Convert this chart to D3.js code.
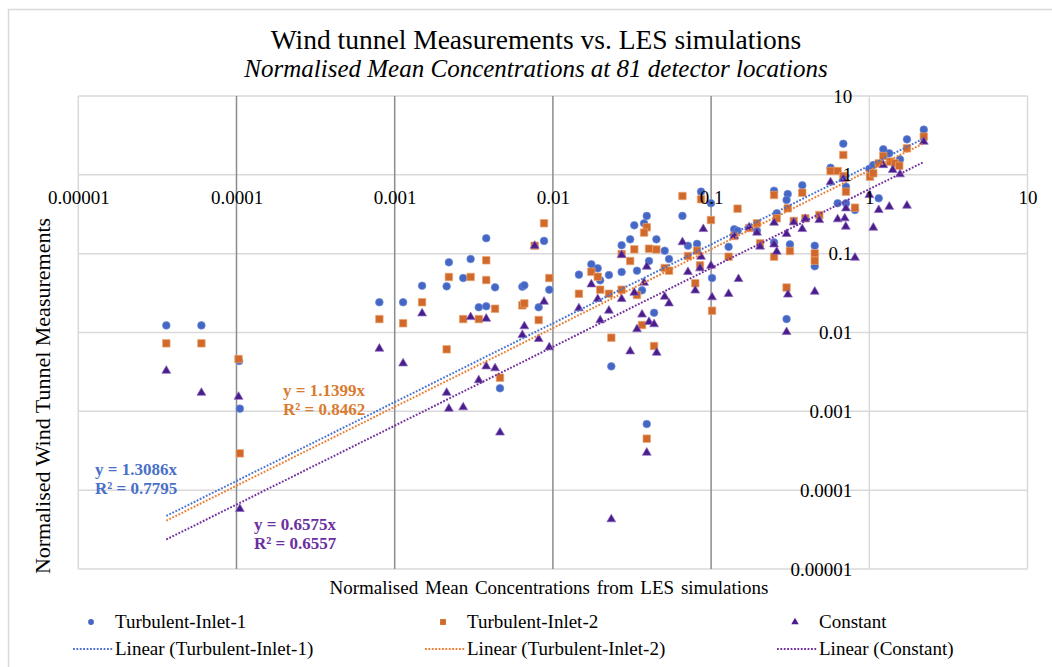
<!DOCTYPE html>
<html>
<head>
<meta charset="utf-8">
<script src="https://cdn.jsdelivr.net/npm/d3@7"></script>
<style>
	body {margin: 0; background: #fff;}
	svg {display: block; font-family: "Liberation Serif", "Times New Roman", serif;}
</style>
</head>
<body>
<div id="plot"></div>
<script>

// Decade ticks shared by both log axes.
var tickValues = [1e-5, 1e-4, 1e-3, 1e-2, 1e-1, 1, 10];
var tickLabels = ["0.00001", "0.0001", "0.001", "0.01", "0.1", "1", "10"];

// Series names and trendline slopes (linear fit through the origin).
var seriesNames = ["Turbulent-Inlet-1", "Turbulent-Inlet-2", "Constant"];
var slopes = [1.3086, 1.1399, 0.6575];
var rSquared = [0.7795, 0.8462, 0.6557];

// [LES value, wind tunnel value] pairs.
var turbulentInlet1 = [
	[3.6e-5, 0.0123], [6.0e-5, 0.0123], [1.04e-4, 0.00435], [1.05e-4, 0.00108],
	[8.0e-4, 0.0242], [1.13e-3, 0.0242], [1.49e-3, 0.0392], [2.13e-3, 0.0385],
	[2.2e-3, 0.0777], [2.71e-3, 0.0491], [3.02e-3, 0.0855], [3.40e-3, 0.0209],
	[3.79e-3, 0.0215], [3.79e-3, 0.157], [4.31e-3, 0.0374], [4.63e-3, 0.00196],
	[6.41e-3, 0.0381], [6.6e-3, 0.0397], [8.13e-3, 0.0209], [8.79e-3, 0.145],
	[9.49e-3, 0.0349], [0.0146, 0.0541], [0.0175, 0.0733], [0.0192, 0.0652],
	[0.0199, 0.0459], [0.0226, 0.0536], [0.0234, 0.00372], [0.0272, 0.128],
	[0.0272, 0.0585], [0.0308, 0.152], [0.0327, 0.229], [0.0340, 0.0608],
	[0.0392, 0.301], [0.0377, 0.243], [0.0405, 0.0807], [0.0451, 0.152],
	[0.0509, 0.109], [0.0542, 0.0855], [0.0366, 0.0343], [0.0436, 0.0178],
	[0.0392, 6.9e-4], [0.0659, 0.301], [0.0714, 0.126], [0.0815, 0.133],
	[0.0864, 0.611], [0.0998, 0.436], [0.1014, 0.0491], [0.129, 0.122],
	[0.140, 0.204], [0.147, 0.195], [0.195, 0.195], [0.250, 0.629],
	[0.305, 0.571], [0.300, 0.48], [0.250, 0.139], [0.300, 0.0148],
	[0.260, 0.325], [0.315, 0.131], [0.452, 0.126], [0.452, 0.0692],
	[0.377, 0.736], [0.569, 1.23], [0.685, 2.48], [0.712, 0.707],
	[0.712, 0.436], [0.631, 0.436], [0.812, 0.358], [1.00, 1.186],
	[1.06, 1.33], [1.147, 0.504], [1.226, 2.11], [1.338, 1.875],
	[1.563, 1.57], [1.73, 2.82], [2.21, 3.74]
];

var turbulentInlet2 = [
	[3.6e-5, 0.00729], [6.0e-5, 0.00729], [1.03e-4, 0.00461], [1.05e-4, 2.93e-4],
	[8.0e-4, 0.0148], [1.13e-3, 0.0131], [1.49e-3, 0.0242], [2.13e-3, 0.00612],
	[2.2e-3, 0.0506], [2.71e-3, 0.0148], [3.02e-3, 0.0506], [3.40e-3, 0.0148],
	[3.79e-3, 0.0824], [3.79e-3, 0.0463], [4.31e-3, 0.0200], [4.63e-3, 0.00267],
	[6.41e-3, 0.0221], [6.6e-3, 0.0234], [8.13e-3, 0.0144], [7.67e-3, 0.126],
	[8.79e-3, 0.243], [9.49e-3, 0.0491], [0.0146, 0.0310], [0.0175, 0.0590],
	[0.0192, 0.0510], [0.0199, 0.0349], [0.0226, 0.0310], [0.0234, 0.00859],
	[0.0272, 0.099], [0.0272, 0.0349], [0.0308, 0.0807], [0.0327, 0.1135],
	[0.0340, 0.0299], [0.0392, 0.216], [0.0377, 0.185], [0.0405, 0.1156],
	[0.0451, 0.113], [0.0509, 0.0658], [0.0542, 0.0608], [0.0366, 0.01245],
	[0.0436, 0.00674], [0.0392, 4.5e-4], [0.0659, 0.539], [0.0714, 0.0934],
	[0.0815, 0.109], [0.0864, 0.49], [0.0851, 0.0711], [0.0794, 0.0421],
	[0.0998, 0.267], [0.1014, 0.0189], [0.129, 0.0915], [0.147, 0.372],
	[0.140, 0.1675], [0.174, 0.2116], [0.195, 0.243], [0.204, 0.1353],
	[0.250, 0.555], [0.260, 0.281], [0.250, 0.0915], [0.300, 0.0372],
	[0.305, 0.376], [0.377, 0.593], [0.333, 0.260], [0.394, 0.281],
	[0.483, 0.309], [0.315, 0.108], [0.452, 0.101], [0.452, 0.0815],
	[0.569, 1.118], [0.631, 1.118], [0.685, 1.785], [0.685, 0.967],
	[0.712, 0.611], [0.812, 0.383], [1.01, 0.947], [1.06, 1.046],
	[1.147, 1.40], [1.226, 1.733], [1.352, 1.47], [1.453, 1.40],
	[1.547, 1.306], [1.73, 2.17], [2.21, 3.05]
];

var constant = [
	[3.6e-5, 0.00327], [6.0e-5, 0.00172], [1.03e-4, 0.00153], [1.05e-4, 5.77e-5],
	[8.0e-4, 0.00623], [1.13e-3, 0.00406], [1.49e-3, 0.0175], [2.13e-3, 0.00172],
	[2.2e-3, 0.00108], [2.71e-3, 0.001125], [3.02e-3, 0.0157], [3.40e-3, 0.00248],
	[3.79e-3, 0.01496], [3.79e-3, 0.00372], [4.31e-3, 0.00352], [4.63e-3, 5.39e-4],
	[6.41e-3, 0.00929], [6.6e-3, 0.0120], [8.13e-3, 0.00827], [7.67e-3, 0.126],
	[8.79e-3, 0.0246], [9.49e-3, 0.00649], [0.0146, 0.0203], [0.0175, 0.0408],
	[0.0192, 0.0266], [0.0199, 0.0143], [0.0226, 0.0189], [0.0308, 0.00577],
	[0.0272, 0.0962], [0.0272, 0.0266], [0.0327, 0.032], [0.0340, 0.011],
	[0.0392, 0.0684], [0.0377, 0.0428], [0.0366, 0.0169], [0.0405, 0.0136],
	[0.0436, 0.01274], [0.0453, 0.00554], [0.0509, 0.0284], [0.0542, 0.0234],
	[0.0659, 0.1397], [0.0714, 0.0585], [0.0794, 0.0341], [0.0851, 0.0652],
	[0.0864, 0.0915], [0.0893, 0.2055], [0.0998, 0.0704], [0.1014, 0.028],
	[0.129, 0.0308], [0.140, 0.1675], [0.149, 0.0477], [0.174, 0.216],
	[0.195, 0.185], [0.204, 0.123], [0.250, 0.247], [0.260, 0.106],
	[0.250, 0.131], [0.300, 0.178], [0.306, 0.0303], [0.300, 0.01014],
	[0.0392, 2.99e-4], [0.0234, 4.27e-5], [2.21, 2.63], [1.226, 1.33],
	[1.406, 1.152], [1.563, 1.016], [0.569, 0.804], [0.685, 0.885],
	[0.712, 0.376], [0.631, 0.273], [0.70, 0.281], [0.71, 0.22],
	[1.00, 0.555], [1.147, 0.358], [1.338, 0.394], [1.73, 0.406],
	[1.06, 0.2135], [0.812, 0.0889], [0.483, 0.267], [0.394, 0.2754],
	[0.377, 0.2055], [0.333, 0.25], [0.452, 0.0329]
];

var allSeries = [turbulentInlet1, turbulentInlet2, constant];

// Colours: marker fill, marker edge, trendline, equation text.
var markerFill = ["#4467c6", "#d0692b", "#4b1c8c"];
var markerEdge = ["#6f8ad6", "#eba46f", "#8a68bb"];
var lineColor = ["#4a72d0", "#ec7d31", "#7030a0"];
var labelColor = ["#4a6fc8", "#d97b30", "#6a2fa0"];

var width = 1052, height = 667;

var svg = d3.select("#plot")
	.append("svg")
	.attr("width", width)
	.attr("height", height);

// Outer chart frame.
svg.append("rect")
	.attr("x", 8.5).attr("y", 9.5)
	.attr("width", 1200).attr("height", 800)
	.attr("fill", "none")
	.attr("stroke", "#d9d9d9")
	.attr("stroke-width", 1.5);

// Log scales for both axes.
var x = d3.scaleLog().domain([1e-5, 10]).range([78.3, 1027.5]);
var y = d3.scaleLog().domain([1e-5, 10]).range([569, 96]);

// Gridlines.
var grid = svg.append("g");
grid.selectAll(".hgrid")
	.data(tickValues)
	.enter().append("line")
		.attr("x1", x.range()[0]).attr("x2", x.range()[1])
		.attr("y1", function(d){ return y(d); })
		.attr("y2", function(d){ return y(d); })
		.attr("stroke", "#d9d9d9")
		.attr("stroke-width", 1.5);
grid.selectAll(".vgrid")
	.data(tickValues)
	.enter().append("line")
		.attr("x1", function(d){ return x(d); })
		.attr("x2", function(d){ return x(d); })
		.attr("y1", y.range()[1]).attr("y2", y.range()[0])
		.attr("stroke", function(d){ return (d > 1e-5 && d < 1) ? "#8c8c8c" : "#d9d9d9"; })
		.attr("stroke-width", 1.5);

// Markers, one symbol type per series.
var symbols = [
	d3.symbol().type(d3.symbolCircle).size(46),
	d3.symbol().type(d3.symbolSquare).size(56),
	d3.symbol().type(d3.symbolTriangle).size(34)
];

allSeries.forEach(function(series, i){
	svg.append("g")
		.selectAll("path")
		.data(series)
		.enter().append("path")
			.attr("d", symbols[i])
			.attr("transform", function(d){ return "translate(" + x(d[0]) + "," + y(d[1]) + ")"; })
			.attr("fill", markerFill[i])
			.attr("stroke", markerEdge[i])
			.attr("stroke-width", 0.7);
});

// Trendlines y = a*x across each series' x range.
var line = d3.line()
	.x(function(d){ return x(d[0]); })
	.y(function(d){ return y(d[1]); });

allSeries.forEach(function(series, i){
	var ext = d3.extent(series, function(d){ return d[0]; });
	svg.append("path")
		.datum([[ext[0], slopes[i] * ext[0]], [ext[1], slopes[i] * ext[1]]])
		.attr("d", line)
		.attr("fill", "none")
		.attr("stroke", lineColor[i])
		.attr("stroke-width", 2)
		.attr("stroke-dasharray", "1.8,1.6");
});

// Axes: x labels below the y=1 line, y labels left of the x=1 line.
svg.append("g")
	.attr("transform", "translate(0," + y(1) + ")")
	.call(d3.axisBottom(x).tickValues(tickValues).tickFormat(function(d, i){ return tickLabels[i]; }).tickSize(0).tickPadding(16))
	.call(function(g){ g.select(".domain").remove(); })
	.attr("font-family", null).attr("font-size", 19).attr("color", "#000");

svg.append("g")
	.attr("transform", "translate(" + x(1) + ",0)")
	.call(d3.axisLeft(y).tickValues(tickValues).tickFormat(function(d, i){ return tickLabels[i]; }).tickSize(0).tickPadding(17))
	.call(function(g){ g.select(".domain").remove(); })
	.attr("font-family", null).attr("font-size", 19).attr("color", "#000");

// Equation labels for the trendlines.
var eqPos = [[95, 475], [283, 396], [254, 530]];
eqPos.forEach(function(p, i){
	svg.append("text")
		.attr("x", p[0]).attr("y", p[1])
		.attr("fill", labelColor[i])
		.style("font-weight", "bold").style("font-size", "17px")
		.text("y = " + slopes[i].toFixed(4) + "x");
	svg.append("text")
		.attr("x", p[0]).attr("y", p[1] + 19)
		.attr("fill", labelColor[i])
		.style("font-weight", "bold").style("font-size", "17px")
		.text("R\u00b2 = " + rSquared[i].toFixed(4));
});

// Titles.
svg.append("text")
	.attr("x", 536).attr("y", 49)
	.attr("text-anchor", "middle")
	.style("font-size", "27.5px")
	.text("Wind tunnel Measurements vs. LES simulations");
svg.append("text")
	.attr("x", 536).attr("y", 77)
	.attr("text-anchor", "middle")
	.style("font-size", "25px").style("font-style", "italic")
	.text("Normalised Mean Concentrations at 81 detector locations");

svg.append("text")
	.attr("x", 549).attr("y", 594)
	.attr("text-anchor", "middle")
	.style("font-size", "19px").style("word-spacing", "2px")
	.text("Normalised Mean Concentrations from LES simulations");

svg.append("text")
	.attr("transform", "translate(50,396) rotate(-90)")
	.attr("text-anchor", "middle")
	.style("font-size", "22px")
	.text("Normalised Wind Tunnel Measurements");

// Legend: markers on the first row, trendlines on the second.
var legendX = [91, 443, 795];
var legendSymbols = [
	d3.symbol().type(d3.symbolCircle).size(26),
	d3.symbol().type(d3.symbolSquare).size(34),
	d3.symbol().type(d3.symbolTriangle).size(24)
];
var legend = svg.append("g").selectAll("g")
	.data(seriesNames)
	.enter().append("g");

legend.append("path")
	.attr("d", function(d, i){ return legendSymbols[i](); })
	.attr("transform", function(d, i){ return "translate(" + legendX[i] + ",622)"; })
	.attr("fill", function(d, i){ return markerFill[i]; });
legend.append("text")
	.attr("x", function(d, i){ return legendX[i] + 24; })
	.attr("y", 628)
	.style("font-size", "19px")
	.text(function(d){ return d; });

legend.append("line")
	.attr("x1", function(d, i){ return legendX[i] - 18; })
	.attr("x2", function(d, i){ return legendX[i] + 22; })
	.attr("y1", 649).attr("y2", 649)
	.attr("stroke", function(d, i){ return lineColor[i]; })
	.attr("stroke-width", 2)
	.attr("stroke-dasharray", "1.8,1.6");
legend.append("text")
	.attr("x", function(d, i){ return legendX[i] + 24; })
	.attr("y", 655)
	.style("font-size", "19px")
	.text(function(d){ return "Linear (" + d + ")"; });

</script>
</body>
</html>
